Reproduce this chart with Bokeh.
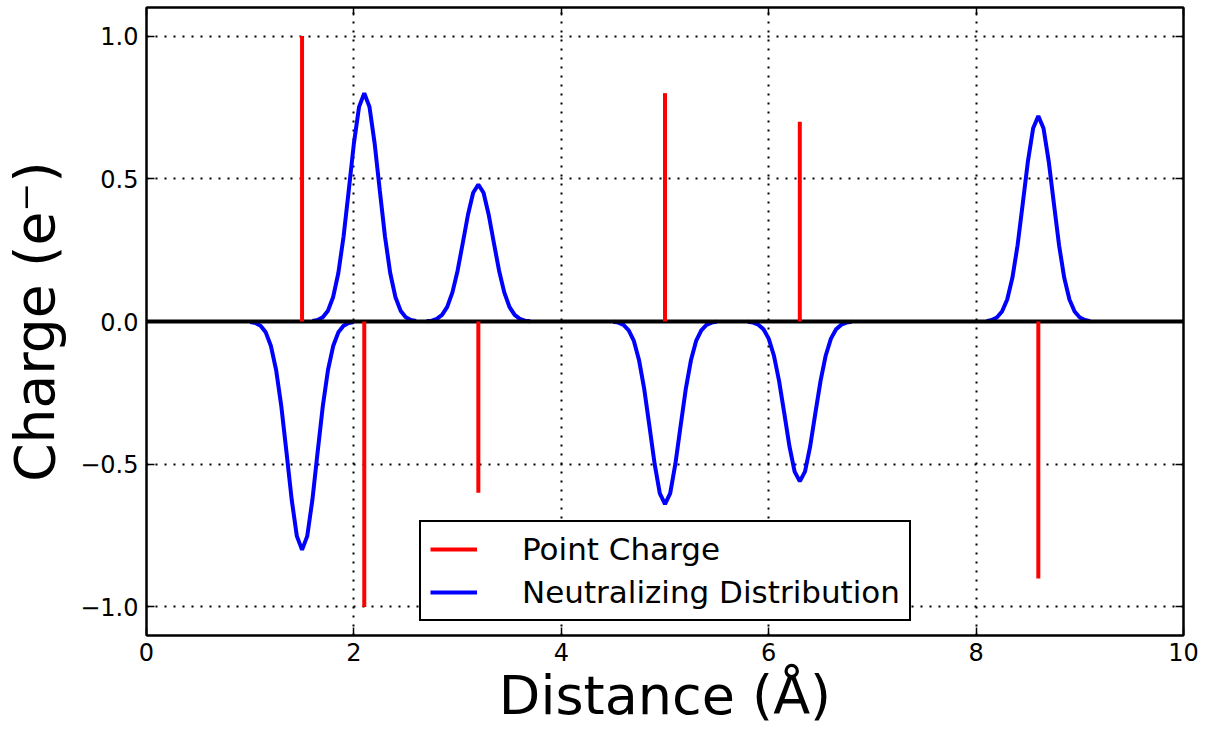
from bokeh.plotting import figure
from bokeh.models import (Span, Legend, LegendItem, LinearAxis, FixedTicker,
                          CustomJSTickFormatter, Range1d)
from bokeh.embed import file_html
from bokeh.resources import INLINE

# ---- data ----
charge_x = [1.5, 2.1, 3.2, 5.0, 6.3, 8.6]
charge_q = [1.0, -1.0, -0.6, 0.8, 0.7, -0.9]

# sample offsets (Angstrom) of the neutralizing distribution around each charge
offsets = [-0.50, -0.45, -0.40, -0.35, -0.30, -0.25, -0.20, -0.15, -0.10, -0.05, 0.00,
           0.05, 0.10, 0.15, 0.20, 0.25, 0.30, 0.35, 0.40, 0.45, 0.50]

dist_1p5 = [-0.002, -0.005, -0.015, -0.038, -0.086, -0.170, -0.297, -0.458, -0.624, -0.752, -0.800,
            -0.752, -0.624, -0.458, -0.297, -0.170, -0.086, -0.038, -0.015, -0.005, -0.002]
dist_2p1 = [0.002, 0.005, 0.015, 0.038, 0.086, 0.170, 0.297, 0.458, 0.624, 0.752, 0.800,
            0.752, 0.624, 0.458, 0.297, 0.170, 0.086, 0.038, 0.015, 0.005, 0.002]
dist_3p2 = [0.001, 0.003, 0.009, 0.023, 0.051, 0.102, 0.178, 0.275, 0.374, 0.451, 0.480,
            0.451, 0.374, 0.275, 0.178, 0.102, 0.051, 0.023, 0.009, 0.003, 0.001]
dist_5p0 = [-0.001, -0.004, -0.012, -0.031, -0.068, -0.136, -0.237, -0.367, -0.499, -0.602, -0.640,
            -0.602, -0.499, -0.367, -0.237, -0.136, -0.068, -0.031, -0.012, -0.004, -0.001]
dist_6p3 = [-0.001, -0.004, -0.011, -0.027, -0.060, -0.119, -0.208, -0.321, -0.437, -0.526, -0.560,
            -0.526, -0.437, -0.321, -0.208, -0.119, -0.060, -0.027, -0.011, -0.004, -0.001]
dist_8p6 = [0.001, 0.005, 0.014, 0.035, 0.077, 0.153, 0.267, 0.413, 0.562, 0.677, 0.720,
            0.677, 0.562, 0.413, 0.267, 0.153, 0.077, 0.035, 0.014, 0.005, 0.001]
distributions = [dist_1p5, dist_2p1, dist_3p2, dist_5p0, dist_6p3, dist_8p6]

x_ticks = [0, 2, 4, 6, 8, 10]
y_ticks = [-1.0, -0.5, 0.0, 0.5, 1.0]

FONT = "DejaVu Sans"

p = figure(width=1206, height=729, output_backend="svg", toolbar_location=None,
           x_range=Range1d(0, 10), y_range=Range1d(-1.1, 1.1),
           min_border_left=146, min_border_right=23, min_border_top=7, min_border_bottom=94)
p.background_fill_color = "white"
p.border_fill_color = "white"
p.outline_line_color = "black"
p.outline_line_width = 2

# grid
for g in (p.xgrid, p.ygrid):
    g.grid_line_color = "black"
    g.grid_line_dash = "2 7"
    g.grid_line_width = 2
    g.grid_line_alpha = 1.0
p.xgrid.ticker = FixedTicker(ticks=x_ticks)
p.ygrid.ticker = FixedTicker(ticks=y_ticks)

# distributions
blue_renderers = []
for c, d in zip(charge_x, distributions):
    xs = [c + o for o in offsets]
    r = p.line(xs, d, line_color="blue", line_width=4)
    blue_renderers.append(r)

zero = Span(location=0, dimension="width", line_color="black", line_width=4)
p.add_layout(zero)

red = p.segment(x0=charge_x, y0=[0] * len(charge_x), x1=charge_x, y1=charge_q,
                line_color="red", line_width=4)
red.level = "overlay"

# axes
xfmt = CustomJSTickFormatter(code="return tick.toFixed(0);")
yfmt = CustomJSTickFormatter(code="return tick < 0 ? '\\u2212' + (-tick).toFixed(1) : tick.toFixed(1);")
nofmt = CustomJSTickFormatter(code="return '';")

def style_axis(ax, labels=True):
    ax.axis_line_color = "black"
    ax.axis_line_width = 2
    ax.major_tick_line_color = "black"
    ax.major_tick_line_width = 1.5
    ax.major_tick_in = 8
    ax.major_tick_out = 0
    ax.minor_tick_line_color = None
    ax.major_label_text_font = FONT
    ax.major_label_text_color = "black"
    if labels:
        ax.major_label_text_font_size = "24px"
    else:
        ax.major_label_text_font_size = "1px"
        ax.major_label_standoff = 0

xa = p.xaxis[0]
xa.ticker = FixedTicker(ticks=x_ticks)
xa.formatter = xfmt
style_axis(xa)
xa.major_label_standoff = 7
xa.axis_label = "Distance (Å)"
xa.axis_label_text_font = FONT
xa.axis_label_text_font_size = "54px"
xa.axis_label_text_font_style = "normal"
xa.axis_label_text_color = "black"
xa.axis_label_standoff = 0

ya = p.yaxis[0]
ya.ticker = FixedTicker(ticks=y_ticks)
ya.formatter = yfmt
style_axis(ya)
ya.major_label_standoff = 8
ya.axis_label = "Charge (e\u207b)"
ya.axis_label_text_font = FONT
ya.axis_label_text_font_size = "55px"
ya.axis_label_text_font_style = "normal"
ya.axis_label_text_color = "black"
ya.axis_label_standoff = 10

top = LinearAxis(ticker=FixedTicker(ticks=x_ticks), formatter=nofmt)
style_axis(top, labels=False)
p.add_layout(top, "above")
right = LinearAxis(ticker=FixedTicker(ticks=y_ticks), formatter=nofmt)
style_axis(right, labels=False)
p.add_layout(right, "right")

legend = Legend(items=[LegendItem(label="Point Charge", renderers=[red]),
                       LegendItem(label="Neutralizing Distribution", renderers=[blue_renderers[0]])],
                location=(273, 14), margin=0, padding=9,
                glyph_width=47, glyph_height=30, label_standoff=45, spacing=7,
                label_text_font=FONT, label_text_font_size="31px", label_text_color="black",
                border_line_color="black", border_line_width=2, border_line_alpha=1.0,
                background_fill_color="white", background_fill_alpha=1.0)
p.add_layout(legend)

open("out.html", "w").write(file_html(p, INLINE))
